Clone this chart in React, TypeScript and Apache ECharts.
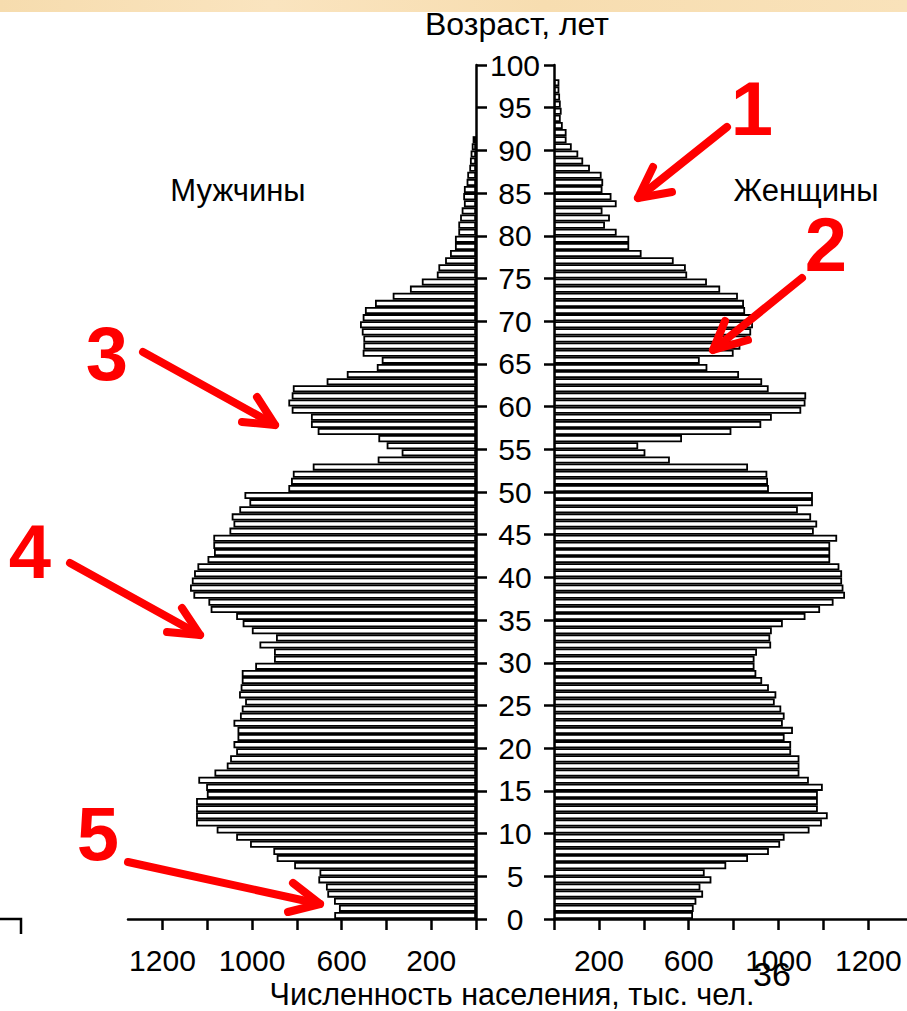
import React, { useEffect, useRef } from "react";
import * as echarts from "echarts";

// bar index (one-year cohort step on the drawn age scale; 6 bars per 5 label units)
const barIndex: string[] = Array.from({ length: 120 }, (_, i) => String(i));

// thousands of people, bar 0 = bottom
const male: number[] = [
  633, 612, 634, 664, 670, 704, 699, 812, 890, 905,
  1009, 1071, 1158, 1250, 1250, 1250, 1250, 1202, 1205, 1240,
  1168, 1113, 1098, 1071, 1083, 1065, 1065, 1083, 1054, 1046,
  1031, 1058, 1051, 1046, 1046, 986, 902, 902, 967, 893,
  1001, 1042, 1071, 1185, 1195, 1262, 1277, 1269, 1259, 1244,
  1199, 1170, 1173, 1173, 1101, 1083, 1091, 1057, 1012, 1034,
  838, 826, 818, 729, 439, 332, 399, 436, 707, 737,
  737, 823, 838, 823, 818, 667, 577, 443, 421, 506,
  503, 503, 510, 518, 506, 496, 451, 372, 295, 242,
  175, 168, 138, 116, 94, 94, 79, 79, 71, 64,
  54, 57, 54, 42, 39, 30, 27, 24, 19, 15,
];

const female: number[] = [
  619, 622, 634, 664, 652, 701, 671, 767, 864, 957,
  1007, 1027, 1138, 1193, 1219, 1175, 1175, 1175, 1197, 1135,
  1093, 1093, 1093, 1056, 1056, 1027, 1064, 1019, 1027, 1012,
  983, 990, 957, 927, 901, 893, 893, 904, 967, 963,
  970, 1019, 1120, 1185, 1245, 1296, 1289, 1283, 1283, 1271,
  1230, 1230, 1230, 1261, 1157, 1172, 1145, 1086, 1153, 1153,
  957, 953, 950, 864, 516, 407, 375, 570, 790, 923,
  970, 1101, 1120, 1123, 956, 927, 824, 683, 649, 800,
  830, 873, 878, 886, 890, 851, 846, 819, 740, 681,
  593, 587, 533, 390, 335, 335, 279, 227, 249, 216,
  279, 256, 216, 219, 212, 160, 130, 108, 79, 56,
  56, 39, 30, 34, 30, 27, 24, 24,
];

// population axis ticks and their printed labels (as printed on the original)
const popTickValues: number[] = [0, 200, 400, 600, 800, 1000, 1200, 1400];
const popLabelValues: number[] = [200, 600, 1000, 1400];
const popLabelTexts: string[] = ["200", "600", "1000", "1200"];

const FONT = "'Liberation Sans', Arial, Helvetica, sans-serif";

export default function App() {
  const ref = useRef<HTMLDivElement>(null);

  useEffect(() => {
    if (!ref.current) return;
    const chart = echarts.init(ref.current, undefined, { renderer: "svg" });

    const popFormatter = (v: number) => {
      const k = popLabelValues.indexOf(v);
      return k >= 0 ? popLabelTexts[k] : "";
    };

    const axisLineStyle = { color: "#000", width: 2.5 };

    const xCommon = {
      type: "value" as const,
      min: 0,
      interval: 200,
      axisLine: { show: true, lineStyle: axisLineStyle },
      axisTick: {
        show: true,
        length: 11,
        inside: false,
        lineStyle: axisLineStyle,
        customValues: popTickValues,
      },
      axisLabel: {
        show: true,
        margin: 26,
        fontSize: 30,
        fontFamily: FONT,
        color: "#000",
        customValues: popLabelValues,
        formatter: popFormatter,
      },
      splitLine: { show: false },
    };

    const arrowStyle = {
      stroke: "#ff0000",
      lineWidth: 8,
      lineCap: "round",
      lineJoin: "round",
      fill: null,
    };

    const arrows = [
      { from: [727, 127], tip: [638, 198], a: [653, 167], b: [672, 192] },
      { from: [802, 278], tip: [713, 350], a: [725, 321], b: [748, 340] },
      { from: [143, 352], tip: [275, 425], a: [257, 397], b: [242, 422] },
      { from: [70, 563], tip: [200, 635], a: [182, 608], b: [167, 632] },
      { from: [128, 862], tip: [320, 904], a: [293, 883], b: [288, 912] },
    ];

    const arrowGraphics: any[] = [];
    arrows.forEach((ar) => {
      arrowGraphics.push({
        type: "line",
        shape: { x1: ar.from[0], y1: ar.from[1], x2: ar.tip[0], y2: ar.tip[1] },
        style: arrowStyle,
        z: 100,
      });
      arrowGraphics.push({
        type: "polyline",
        shape: { points: [ar.a, ar.tip, ar.b] },
        style: arrowStyle,
        z: 100,
      });
    });

    const redNumbers = [
      { t: "1", x: 752, y: 108 },
      { t: "2", x: 826, y: 244 },
      { t: "3", x: 107, y: 353 },
      { t: "4", x: 30, y: 551 },
      { t: "5", x: 98, y: 833 },
    ];

    const textEl = (t: string, x: number, y: number, size: number, opts: any = {}) => ({
      type: "text",
      x,
      y,
      z: 100,
      style: {
        text: t,
        fontSize: size,
        fontFamily: FONT,
        fill: "#000",
        textAlign: "center",
        textVerticalAlign: "middle",
        ...opts,
      },
    });

    chart.setOption({
      animation: false,
      backgroundColor: "#ffffff",
      grid: [
        { left: 128, top: 65, width: 348, height: 854, containLabel: false },
        { left: 554, top: 65, width: 353, height: 854, containLabel: false },
      ],
      xAxis: [
        { ...xCommon, gridIndex: 0, max: 1554, inverse: true, position: "bottom" },
        { ...xCommon, gridIndex: 1, max: 1572, position: "bottom" },
      ],
      yAxis: [
        {
          type: "category",
          gridIndex: 0,
          data: barIndex,
          show: false,
        },
        {
          type: "value",
          gridIndex: 0,
          position: "right",
          min: 0,
          max: 100,
          interval: 5,
          axisLine: { show: true, lineStyle: axisLineStyle },
          axisTick: { show: true, length: 11, inside: false, lineStyle: axisLineStyle },
          axisLabel: { show: false },
          splitLine: { show: false },
        },
        {
          type: "category",
          gridIndex: 1,
          data: barIndex,
          show: false,
        },
        {
          type: "value",
          gridIndex: 1,
          position: "left",
          min: 0,
          max: 100,
          interval: 5,
          axisLine: { show: true, lineStyle: axisLineStyle },
          axisTick: { show: true, length: 10, inside: false, lineStyle: axisLineStyle },
          axisLabel: {
            show: true,
            margin: 39,
            align: "center",
            verticalAlign: "middle",
            fontSize: 30,
            fontFamily: FONT,
            color: "#000",
          },
          splitLine: { show: false },
        },
      ],
      series: [
        {
          name: "Мужчины",
          type: "bar",
          xAxisIndex: 0,
          yAxisIndex: 0,
          data: male,
          barCategoryGap: "0%",
          itemStyle: { color: "#ffffff", borderColor: "#000000", borderWidth: 1.8 },
          silent: true,
        },
        {
          name: "Женщины",
          type: "bar",
          xAxisIndex: 1,
          yAxisIndex: 2,
          data: female,
          barCategoryGap: "0%",
          itemStyle: { color: "#ffffff", borderColor: "#000000", borderWidth: 1.8 },
          silent: true,
        },
      ],
      graphic: [
        {
          type: "rect",
          shape: { x: 0, y: 0, width: 907, height: 12 },
          style: {
            fill: new echarts.graphic.LinearGradient(0, 0, 1, 0, [
              { offset: 0, color: "#f6dcae" },
              { offset: 0.3, color: "#fae4bf" },
              { offset: 0.6, color: "#f7ddb0" },
              { offset: 1, color: "#f9e2ba" },
            ]),
          },
          z: 90,
        },
        {
          type: "polyline",
          shape: { points: [[0, 919], [21, 919], [21, 934]] },
          style: { stroke: "#000", lineWidth: 2.5, fill: null },
          z: 90,
        },
        textEl("Возраст, лет", 517, 24, 32),
        textEl("Мужчины", 238, 190, 31),
        textEl("Женщины", 806, 190, 31),
        textEl("Численность населения, тыс. чел.", 512, 994, 30.5),
        textEl("36", 772, 974, 34),
        ...arrowGraphics,
        ...redNumbers.map((n) =>
          textEl(n.t, n.x, n.y, 76, { fill: "#ff0000", fontWeight: "bold" })
        ),
      ],
    });

    return () => chart.dispose();
  }, []);

  return (
    <div
      ref={ref}
      style={{ position: "fixed", left: 0, top: 0, width: 907, height: 1011, background: "#fff" }}
    />
  );
}
